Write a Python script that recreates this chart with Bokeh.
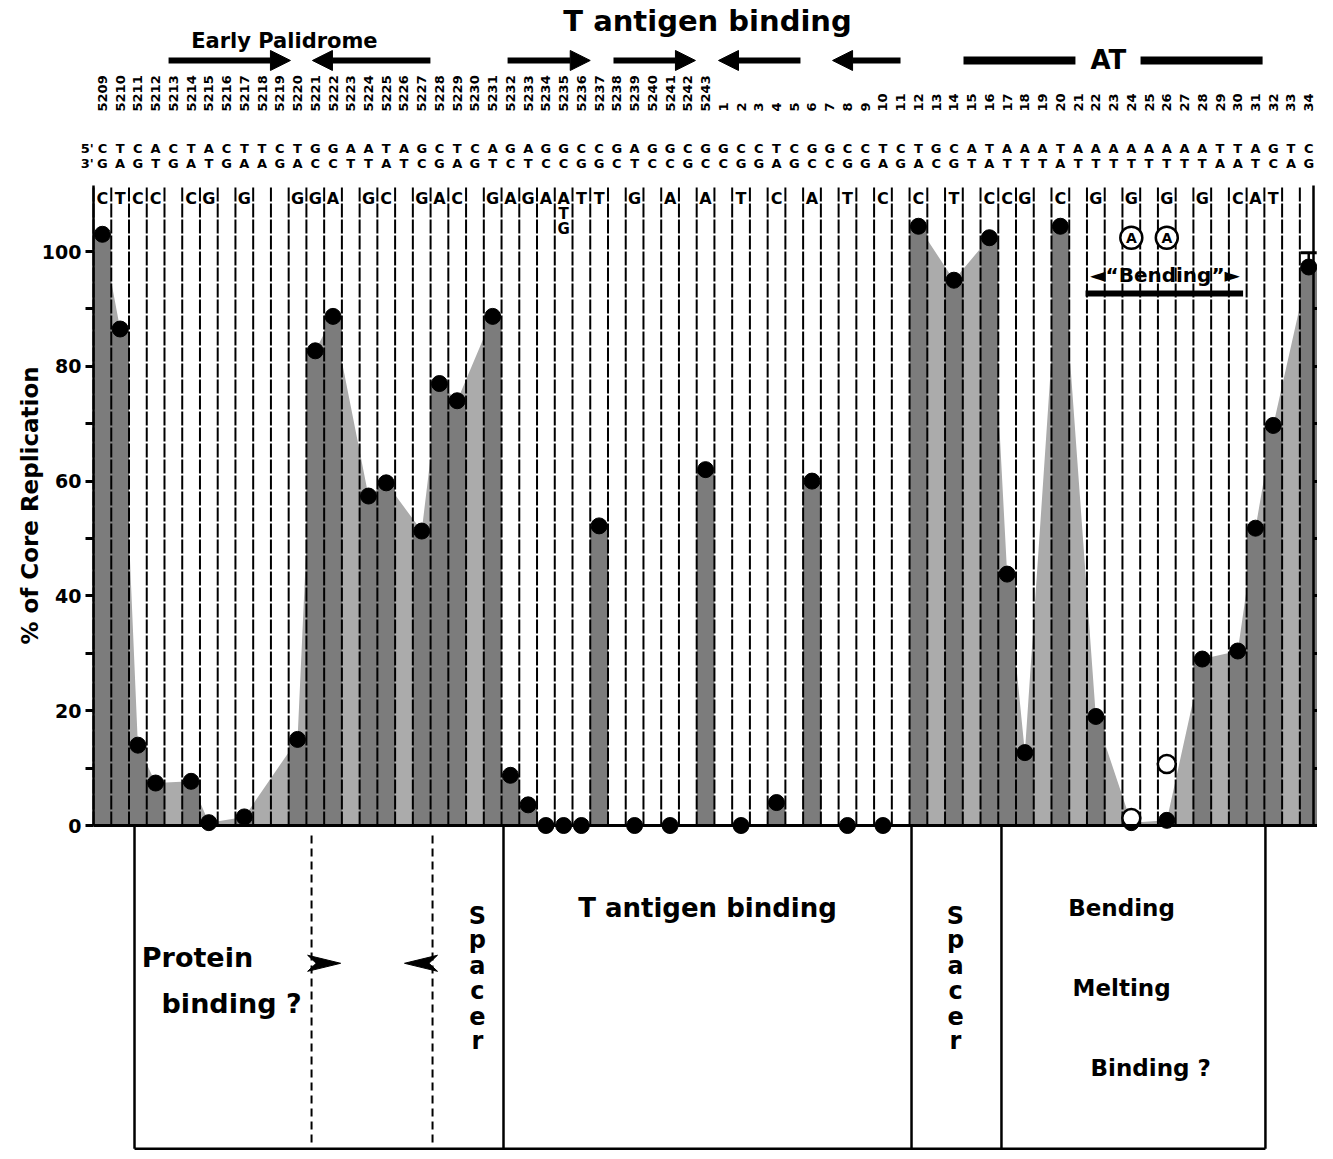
from bokeh.plotting import figure
from bokeh.models import (Range1d, LinearAxis, FixedTicker, Arrow, NormalHead,
                          ColumnDataSource, Whisker, TeeHead)
from bokeh.core.properties import value
from bokeh.embed import file_html
from bokeh.resources import INLINE

# ---------------- data ----------------
positions = ["5209", "5210", "5211", "5212", "5213", "5214", "5215", "5216", "5217", "5218",
             "5219", "5220", "5221", "5222", "5223", "5224", "5225", "5226", "5227", "5228",
             "5229", "5230", "5231", "5232", "5233", "5234", "5235", "5236", "5237", "5238",
             "5239", "5240", "5241", "5242", "5243",
             "1", "2", "3", "4", "5", "6", "7", "8", "9", "10", "11", "12", "13", "14", "15",
             "16", "17", "18", "19", "20", "21", "22", "23", "24", "25", "26", "27", "28", "29",
             "30", "31", "32", "33", "34"]
strand5 = list("CTCACTACTTCTGGAATAGCTCAGAGGCCGAGGCGGCCTCGGCCTCTGCATAAATAAAAAAAATTAGTC")
strand3 = list("GAGTGATGAAGACCTTATCGAGTCTCCGGCTCCGCCGGAGCCGGAGACGTATTTATTTTTTTTAATCAG")
mutant = ["C", "T", "C", "C", "", "C", "G", "", "G", "", "", "G", "G", "A", "", "G", "C", "",
          "G", "A", "C", "", "G", "A", "G", "A", "A", "T", "T", "", "G", "", "A", "", "A",
          "", "T", "", "C", "", "A", "", "T", "", "C", "", "C", "", "T", "", "C", "C", "G",
          "", "C", "", "G", "", "G", "", "G", "", "G", "", "C", "A", "T", "", ""]

# % of core replication (filled symbols), by position label
left_pos = ["5209", "5210", "5211", "5212", "5214", "5215", "5217", "5220", "5221", "5222",
            "5224", "5225", "5227", "5228", "5229", "5231"]
left_val = [103, 86.5, 14, 7.4, 7.7, 0.5, 1.5, 15, 82.7, 88.7, 57.4, 59.7, 51.3, 77, 74, 88.7]
mid_pos = ["5232", "5233", "5234", "5235", "5236", "5237", "5239", "5241", "5243",
           "2", "4", "6", "8", "10"]
mid_val = [8.75, 3.6, 0, 0, 0, 52.2, 0, 0, 62, 0, 4, 60, 0, 0]
right_pos = ["12", "14", "16", "17", "18", "20", "22", "24", "26", "28", "30", "31", "32", "34"]
right_val = [104.4, 95, 102.4, 43.8, 12.7, 104.4, 19, 0.5, 0.9, 29, 30.4, 51.8, 69.7, 97.3]
# open symbols (G -> A mutants)
open_pos = ["24", "26"]
open_val = [1.3, 10.7]
err_pos = ["34"]
err_upper = [99.8]

y_ticks = [0, 20, 40, 60, 80, 100]
y_minor = [10, 30, 50, 70, 90]
right_ticks = [0, 10, 20, 30, 40, 50, 60, 70, 80, 90]

# ---------------- helpers ----------------
idx = {p: i for i, p in enumerate(positions)}
FONT = value("DejaVu Sans")
ncol = len(positions)


def cols(names):
    return [idx[n] for n in names]


p = figure(width=1317, height=1151,
           x_range=Range1d(-5.744, 68.495), y_range=Range1d(-56.79, 143.73),
           x_axis_type=None, y_axis_type=None, min_border=0,
           toolbar_location=None, output_backend="svg", outline_line_color=None)
p.grid.visible = False

# ---------------- shading ----------------
p.varea(x=cols(left_pos), y1=[0] * len(left_pos), y2=left_val, fill_color="#ababab")
p.varea(x=cols(right_pos), y1=[0] * len(right_pos), y2=right_val, fill_color="#ababab")
all_x = cols(left_pos) + cols(mid_pos) + cols(right_pos)
all_v = left_val + mid_val + right_val
p.vbar(x=all_x, width=1.0, top=all_v, bottom=0, fill_color="#7c7c7c", line_color=None)

# column boundary lines
bounds_x = [i + 0.5 for i in range(-1, ncol - 1)]
p.segment(x0=bounds_x, y0=[0] * len(bounds_x), x1=bounds_x, y1=[111.5] * len(bounds_x),
          line_color="black", line_width=2, line_dash="14 2")

# symbols
p.scatter(x=all_x, y=all_v, size=16, fill_color="black", line_color="black")
p.scatter(x=cols(open_pos), y=open_val, size=18, fill_color="white",
          line_color="black", line_width=2.5)
err_src = ColumnDataSource(dict(x=cols(err_pos), lower=[right_val[-1]], upper=err_upper))
p.add_layout(Whisker(source=err_src, base="x", lower="lower", upper="upper",
                     line_width=2.5, lower_head=None,
                     upper_head=TeeHead(size=16, line_width=3)))

# ---------------- axes ----------------
yax = LinearAxis(fixed_location=-0.5, bounds=(0, 111.5),
                 ticker=FixedTicker(ticks=y_ticks, minor_ticks=y_minor),
                 axis_label="% of Core Replication",
                 axis_label_text_font="DejaVu Sans", axis_label_text_color="black",
                 axis_label_text_font_style="bold", axis_label_text_font_size="23px",
                 axis_label_standoff=-4,
                 major_label_text_font="DejaVu Sans", major_label_text_font_style="bold",
                 major_label_text_font_size="19px", major_label_standoff=4,
                 major_label_text_color="black",
                 axis_line_width=2.5, major_tick_line_width=3, minor_tick_line_width=3,
                 major_tick_out=8, major_tick_in=0, minor_tick_out=8, minor_tick_in=0)
p.add_layout(yax, "left")

rax = LinearAxis(fixed_location=68.27, bounds=(0, 111.5),
                 ticker=FixedTicker(ticks=right_ticks, minor_ticks=[]),
                 major_label_overrides={t: "" for t in right_ticks},
                 axis_line_width=2.5, major_tick_line_width=3,
                 major_tick_out=9, major_tick_in=0)
p.add_layout(rax, "right")

bax = LinearAxis(fixed_location=0, bounds=(-0.5, 68.495),
                 ticker=FixedTicker(ticks=[], minor_ticks=[]),
                 axis_line_width=3)
p.add_layout(bax, "below")

tax = LinearAxis(fixed_location=123.35,
                 ticker=FixedTicker(ticks=list(range(ncol)), minor_ticks=[]),
                 major_label_overrides={i: positions[i] for i in range(ncol)},
                 major_label_orientation="vertical",
                 axis_line_color=None, major_tick_line_color=None,
                 major_label_standoff=0, major_label_text_font="DejaVu Sans",
                 major_label_text_color="black",
                 major_label_text_font_style="bold", major_label_text_font_size="13px")
p.add_layout(tax, "above")


def txt(x, y, t, size, align="center", baseline="middle", angle=0):
    p.text(x=x, y=y, text=t, text_font=FONT, text_font_style="bold",
           text_font_size=size, text_align=align, text_baseline=baseline,
           text_color="black", angle=angle)


# sequences
all_cols = list(range(ncol))
txt(all_cols, [117.94] * ncol, strand5, "13px")
txt(all_cols, [115.33] * ncol, strand3, "13px")
txt([-0.85, -0.85], [117.94, 115.33], ["5'", "3'"], "13px")

# mutant bases
mc = [i for i in range(ncol) if mutant[i]]
txt(mc, [109.23] * len(mc), [mutant[i] for i in mc], "16px")
txt([idx["5235"], idx["5235"]], [106.6, 104.0], ["T", "G"], "15px")
p.scatter(x=[idx["24"], idx["26"]], y=[102.4, 102.4], size=22, fill_color="white",
          line_color="black", line_width=2.5)
txt([idx["24"], idx["26"]], [102.4, 102.4], ["A", "A"], "14px")

# "Bending" bracket
txt([59.9], [95.9], ["\u25c4\u201cBending\u201d\u25ba"], "20px")
p.segment(x0=[55.42], y0=[92.68], x1=[64.3], y1=[92.68], line_color="black", line_width=6)

# ---------------- top annotations ----------------
txt([34.11], [140.24], ["T antigen binding"], "29px")
txt([10.26], [136.76], ["Early Palidrome"], "21px")
arrow_specs = [(3.73, 10.6), (18.49, 11.84), (22.84, 27.5), (28.81, 33.43),
               (39.35, 34.73), (44.99, 41.16)]
for xs_, xe_ in arrow_specs:
    p.add_layout(Arrow(x_start=xs_, y_start=133.28, x_end=xe_, y_end=133.28,
                       line_width=6, line_color="black",
                       end=NormalHead(size=20, fill_color="black", line_color="black")))
p.segment(x0=[48.54, 58.52], y0=[133.28, 133.28], x1=[54.85, 65.4], y1=[133.28, 133.28],
          line_color="black", line_width=8)
txt([56.71], [133.28], ["AT"], "26px")

# ---------------- bottom box ----------------
box_bottom = -56.3
box_x = [1.81, 22.61, 45.61, 50.68, 65.56]
p.segment(x0=box_x, y0=[0] * 5, x1=box_x, y1=[box_bottom] * 5, line_color="black", line_width=2.5)
p.segment(x0=[1.81], y0=[box_bottom], x1=[65.56], y1=[box_bottom], line_color="black", line_width=2.5)
p.segment(x0=[11.79, 18.61], y0=[-1.74, -1.74], x1=[11.79, 18.61], y1=[-55.6, -55.6],
          line_color="black", line_width=2, line_dash="8 5")
txt([5.36], [-23.0], ["Protein"], "27px")
txt([7.28], [-31.0], ["binding ?"], "27px")
p.patches(xs=[[11.57, 13.43, 11.57, 12.05], [18.89, 17.03, 18.89, 18.41]],
          ys=[[-22.6, -24.0, -25.4, -24.0], [-22.6, -24.0, -25.4, -24.0]],
          fill_color="black", line_color="black")
sp_y = [-15.68, -20.03, -24.39, -28.75, -33.1, -37.46]
txt([21.14] * 6, sp_y, list("Spacer"), "24px")
txt([48.09] * 6, sp_y, list("Spacer"), "24px")
txt([34.11], [-14.29], ["T antigen binding"], "26px")
txt([57.45], [-14.29], ["Bending"], "23px")
txt([57.45], [-28.22], ["Melting"], "23px")
txt([59.09], [-42.16], ["Binding ?"], "23px")

open("out.html", "w").write(file_html(p, INLINE))
